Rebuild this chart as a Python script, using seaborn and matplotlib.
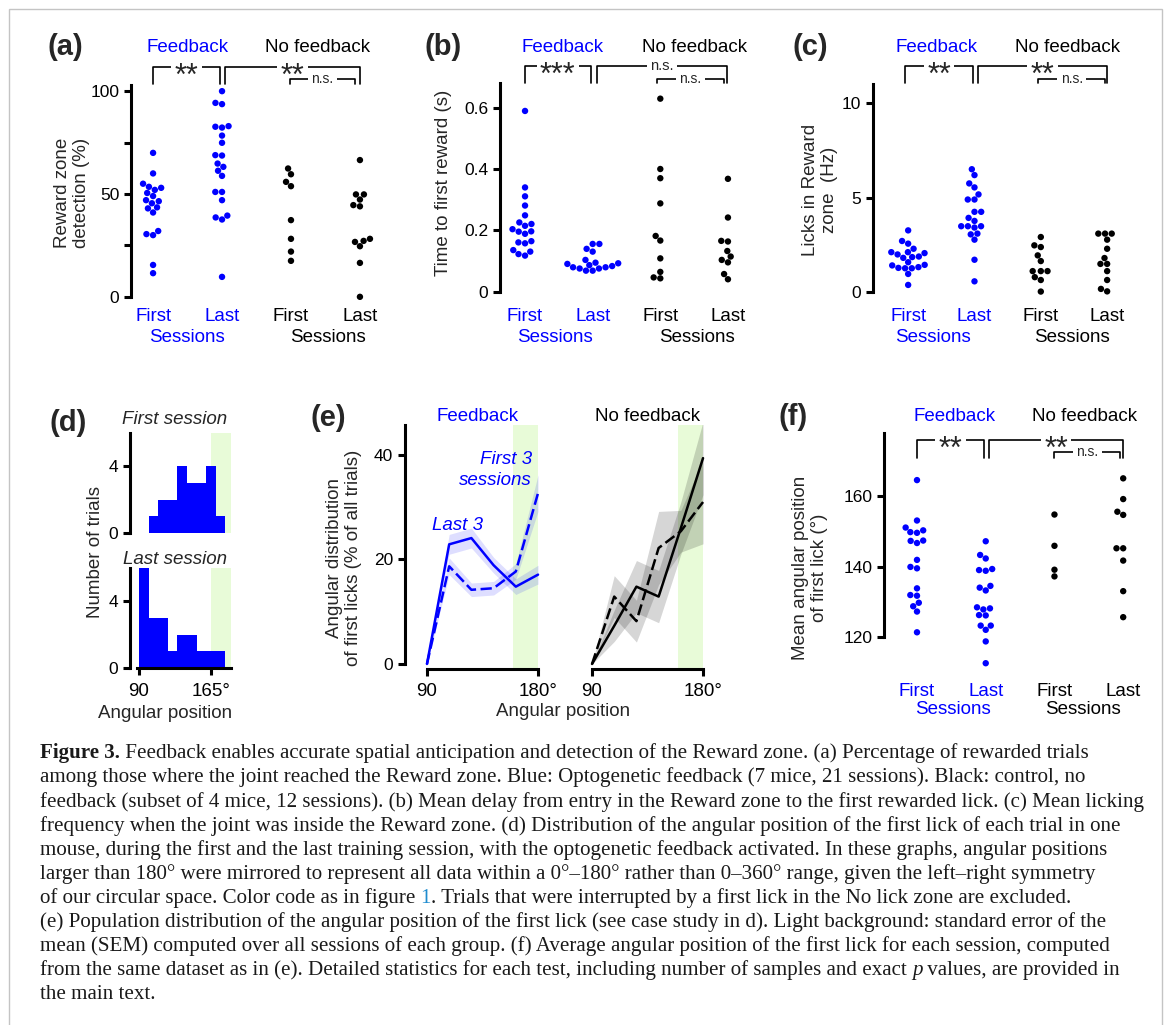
import numpy as np
import pandas as pd
import matplotlib.pyplot as plt
import seaborn as sns
from matplotlib.patches import Rectangle

# ----------------------------------------------------------------
# Values
# ----------------------------------------------------------------
groups = ["fb_first", "fb_last", "nf_first", "nf_last"]
cat_labels = ["First", "Last", "First", "Last"]

# (a) reward zone detection (%)
a_fb_first = [70, 60, 55, 53.5, 53, 52, 50.5, 49, 47, 46.5, 45.5, 43.5, 43, 41, 32, 30.5, 30, 15.5, 11.5]
a_fb_last = [100, 94.3, 93.7, 83, 82.7, 82.3, 78.4, 74.9, 68.9, 68.7, 64.8, 63.2, 61.3, 58.8,
             51, 51, 47, 39.5, 38.6, 37.6, 9.7]
a_nf_first = [62.4, 59.6, 55.9, 53.8, 37.3, 28.2, 22, 17.5]
a_nf_last = [66.5, 49.8, 49.8, 47.3, 44.6, 44, 28.2, 27.2, 26.7, 24.6, 16.5, 0]

# (b) time to first reward (s)
b_fb_first = [0.589, 0.340, 0.311, 0.281, 0.249, 0.226, 0.221, 0.215, 0.204, 0.197, 0.196, 0.189,
              0.165, 0.161, 0.158, 0.136, 0.131, 0.123, 0.118]
b_fb_last = [0.156, 0.156, 0.140, 0.131, 0.104, 0.095, 0.093, 0.091, 0.087, 0.084, 0.080, 0.080,
             0.076, 0.076, 0.069, 0.069]
b_nf_first = [0.629, 0.400, 0.370, 0.288, 0.182, 0.167, 0.109, 0.065, 0.047, 0.044]
b_nf_last = [0.368, 0.242, 0.166, 0.164, 0.133, 0.115, 0.104, 0.096, 0.058, 0.041]

# (c) licks in reward zone (Hz)
c_fb_first = [3.27, 2.71, 2.57, 2.30, 2.12, 2.12, 2.07, 2.0, 1.89, 1.86, 1.82, 1.59, 1.45, 1.42,
              1.33, 1.29, 1.27, 1.27, 0.97, 0.39]
c_fb_last = [6.5, 6.19, 5.75, 5.54, 5.17, 4.90, 4.90, 4.25, 4.25, 3.93, 3.77, 3.49, 3.49, 3.49,
             3.42, 3.10, 3.06, 2.78, 1.72, 0.58]
c_nf_first = [2.92, 2.48, 2.39, 1.95, 1.65, 1.12, 1.12, 1.12, 0.80, 0.65, 0.04]
c_nf_last = [3.10, 3.10, 3.10, 2.78, 2.30, 1.81, 1.50, 1.50, 1.12, 0.65, 0.18, 0.05]

# (f) mean angular position of first lick (deg)
f_fb_first = [164.6, 153.1, 151.1, 150.3, 149.8, 149.6, 147.4, 147.3, 146.7, 141.9, 139.9, 139.5,
              133.8, 131.9, 131.7, 129.7, 128.7, 127.2, 121.3]
f_fb_last = [147.2, 143.3, 142.3, 139.3, 139.0, 138.8, 134.5, 134.0, 133.2, 128.4, 128.1, 127.8,
             126.2, 126.1, 123.2, 123.2, 122.0, 118.7, 112.5]
f_nf_first = [154.8, 145.9, 139.1, 137.2]
f_nf_last = [165.1, 159.2, 155.6, 154.7, 145.2, 145.2, 141.7, 133.0, 125.6]

# (d) first-lick angle histograms, one mouse
hist_edges = [90, 100, 110, 120, 130, 140, 150, 160, 170, 180]
hist_centers = [95, 105, 115, 125, 135, 145, 155, 165, 175]
first_session_counts = [0, 1, 2, 2, 4, 3, 3, 4, 1]
last_session_counts = [6, 3, 3, 1, 2, 2, 1, 1, 1]

# (e) angular distribution of first licks (% of all trials) +/- SEM
angle_bins = [90, 108, 126, 144, 162, 180]
fb_last3 = [0, 22.9, 24.1, 18.9, 14.8, 17.1]
fb_last3_sem = [0, 1.9, 1.9, 1.5, 1.5, 1.8]
fb_first3 = [0, 18.7, 14.2, 14.5, 17.7, 32.7]
fb_first3_sem = [0, 1.6, 1.3, 1.3, 1.5, 3.5]
nf_last3 = [0, 7.3, 14.8, 12.9, 26.0, 39.4]
nf_last3_sem = [0, 3.0, 5.0, 5.0, 5.0, 7.0]
nf_first3 = [0, 12.9, 8.2, 22.2, 25.4, 31.0]
nf_first3_sem = [0, 4.0, 4.0, 7.0, 4.0, 8.0]

caption_lines = [
    " Feedback enables accurate spatial anticipation and detection of the Reward zone. (a) Percentage of rewarded trials",
    "among those where the joint reached the Reward zone. Blue: Optogenetic feedback (7 mice, 21 sessions). Black: control, no",
    "feedback (subset of 4 mice, 12 sessions). (b) Mean delay from entry in the Reward zone to the first rewarded lick. (c) Mean licking",
    "frequency when the joint was inside the Reward zone. (d) Distribution of the angular position of the first lick of each trial in one",
    "mouse, during the first and the last training session, with the optogenetic feedback activated. In these graphs, angular positions",
    "larger than 180\u00b0 were mirrored to represent all data within a 0\u00b0\u2013180\u00b0 rather than 0\u2013360\u00b0 range, given the left\u2013right symmetry",
    "of our circular space. Color code as in figure ",
    "(e) Population distribution of the angular position of the first lick (see case study in d). Light background: standard error of the",
    "mean (SEM) computed over all sessions of each group. (f) Average angular position of the first lick for each session, computed",
    "from the same dataset as in (e). Detailed statistics for each test, including number of samples and exact ",
    "the main text.",
]

# ----------------------------------------------------------------
# Style / layout helpers (everything placed in pixel coordinates)
# ----------------------------------------------------------------
sns.set_theme(style="ticks")
plt.rcParams["font.family"] = ["Liberation Sans", "DejaVu Sans"]
plt.rcParams.update({
    "axes.linewidth": 2.2,
    "xtick.major.width": 2.2, "ytick.major.width": 2.2,
    "xtick.major.size": 5, "ytick.major.size": 5,
    "xtick.color": "black", "ytick.color": "black",
    "axes.edgecolor": "black",
})

W, H = 1171, 1025
BLUE = "#0000ff"
BLACK = "#000000"
GREEN = "#e8fbd8"
FS = 13.5        # most labels
TICK_FS = 12.5

fig = plt.figure(figsize=(W / 100, H / 100), dpi=100)
fig.patches.append(Rectangle((9 / W, -0.02), (1162 - 9) / W, 1.02 - 9 / H,
                             transform=fig.transFigure, fill=False, ec="#c4c4c4", lw=1.0))


def add_ax(box):
    left, top, right, bottom = box
    return fig.add_axes([left / W, 1 - bottom / H, (right - left) / W, (bottom - top) / H])


def yfrac(box, y_px):
    return (box[3] - y_px) / (box[3] - box[1])


def ftext(x_px, y_px, s, **kw):
    kw.setdefault("ha", "center")
    kw.setdefault("va", "center")
    return fig.text(x_px / W, 1 - y_px / H, s, **kw)


def bracket(ax, box, x1, x2, y_line, y_tip, text, size, z=5):
    tr = ax.get_xaxis_transform()
    yl, yt = yfrac(box, y_line), yfrac(box, y_tip)
    ax.plot([x1, x1, x2, x2], [yt, yl, yl, yt], transform=tr, color="black", lw=1.2,
            clip_on=False, zorder=z)
    shift = -0.58 * size if "*" in text else -0.27 * size
    ax.annotate(text, xy=((x1 + x2) / 2, yl), xycoords=tr, xytext=(0, shift),
                textcoords="offset points", ha="center", va="baseline", fontsize=size,
                annotation_clip=False, zorder=z + 1,
                bbox=dict(fc="white", ec="none", pad=2.5))


def strip_panel(box, xlim, ylim, values, yticks, yticklabels, ylabel, ylabel_xy,
                letter, letter_xy, fb_x, nf_x, head_y, label_y, sess_y, sess_x, brackets):
    ax = add_ax(box)
    df = pd.DataFrame({"group": np.repeat(groups, [len(v) for v in values]),
                       "value": np.concatenate(values)})
    sns.swarmplot(data=df, x="group", y="value", order=groups, hue="group", hue_order=groups,
                  palette=[BLUE, BLUE, BLACK, BLACK], size=4.6, linewidth=0, legend=False,
                  ax=ax, clip_on=False)
    ax.set_xlim(*xlim)
    ax.set_ylim(*ylim)
    sns.despine(ax=ax, bottom=True)
    ax.spines["left"].set_bounds(yticks[0], ylim[1])
    ax.set_yticks(yticks, yticklabels, fontsize=TICK_FS)
    pad_pt = (label_y - 10.3 - box[3]) / 1.389
    ax.set_xticks(range(4), cat_labels, fontsize=FS)
    ax.tick_params(axis="x", length=0, pad=pad_pt)
    for t, c in zip(ax.get_xticklabels(), [BLUE, BLUE, BLACK, BLACK]):
        t.set_color(c)
    ax.set_xlabel("")
    ax.set_ylabel("")
    tr = ax.get_xaxis_transform()
    ax.text(sess_x[0], yfrac(box, sess_y), "Sessions", transform=tr, color=BLUE,
            fontsize=FS, ha="center", va="center")
    ax.text(sess_x[1], yfrac(box, sess_y), "Sessions", transform=tr, color=BLACK,
            fontsize=FS, ha="center", va="center")
    ftext(*ylabel_xy, ylabel, rotation=90, fontsize=FS, multialignment="center")
    ftext(*letter_xy, letter, fontsize=21, fontweight="bold")
    ftext(fb_x, head_y, "Feedback", color=BLUE, fontsize=FS)
    ftext(nf_x, head_y, "No feedback", color=BLACK, fontsize=FS)
    for i, (x1, x2, yl, yt, txt, sz) in enumerate(brackets):
        bracket(ax, box, x1, x2, yl, yt, txt, sz, z=5 + 3 * i)
    return ax


# ----------------------------------------------------------------
# (a) (b) (c): strip plots, top row
# ----------------------------------------------------------------
strip_panel((131, 85, 382, 303), (-0.32, 3.32), (-3, 103),
            [a_fb_first, a_fb_last, a_nf_first, a_nf_last],
            [0, 25, 50, 75, 100], ["0", "", "50", "", "100"],
            "Reward zone\ndetection (%)", (72, 193), "(a)", (65, 47), 188, 318, 47, 318, 338,
            (0.49, 2.54),
            [(0, 0.97, 67, 84, "**", 22), (1.05, 3.0, 67, 84, "**", 22),
             (1.98, 2.93, 79, 84, "n.s.", 10)])

strip_panel((500, 83, 755, 298), (-0.37, 3.4), (-0.02, 0.68),
            [b_fb_first, b_fb_last, b_nf_first, b_nf_last],
            [0, 0.2, 0.4, 0.6], ["0", "0.2", "0.4", "0.6"],
            "Time to first reward (s)", (443, 183), "(b)", (443, 47), 563, 695, 47, 318, 338,
            (0.44, 2.54),
            [(0, 0.97, 66, 83, "***", 22), (1.06, 2.99, 66, 83, "n.s.", 10.5),
             (1.95, 2.94, 79, 83, "n.s.", 10)])

strip_panel((873, 84, 1135, 298), (-0.53, 3.42), (-0.3, 11),
            [c_fb_first, c_fb_last, c_nf_first, c_nf_last],
            [0, 5, 10], ["0", "5", "10"],
            "Licks in Reward\nzone  (Hz)", (820, 190), "(c)", (810, 47), 937, 1068, 47, 318, 338,
            (0.38, 2.47),
            [(-0.05, 0.98, 66, 83, "**", 22), (1.05, 3.0, 66, 83, "**", 22),
             (1.96, 2.97, 79, 83, "n.s.", 10)])

# ----------------------------------------------------------------
# (f): strip plot, bottom right
# ----------------------------------------------------------------
strip_panel((884, 433, 1150, 672), (-0.48, 3.39), (110, 178),
            [f_fb_first, f_fb_last, f_nf_first, f_nf_last],
            [120, 140, 160], ["120", "140", "160"],
            "Mean angular position\nof first lick (\u00b0)", (810, 568), "(f)", (793, 417),
            955, 1085, 417, 693, 710, (0.52, 2.42),
            [(0, 0.98, 440, 458, "**", 22), (1.05, 3.0, 440, 458, "**", 22),
             (2.0, 2.95, 452, 458, "n.s.", 10)])

# ----------------------------------------------------------------
# (d): histograms for one mouse
# ----------------------------------------------------------------
for box, counts, title, ty in [((130, 433, 231, 533), first_session_counts, "First session", 420),
                               ((130, 568, 231, 668), last_session_counts, "Last session", 559)]:
    ax = add_ax(box)
    ax.axvspan(165, 186, color=GREEN, lw=0, zorder=0)
    sns.histplot(x=hist_centers, weights=counts, bins=hist_edges, color=BLUE, alpha=1,
                 linewidth=0, ax=ax, zorder=2)
    ax.set_xlim(80.6, 186)
    ax.set_ylim(0, 6)
    ax.set_yticks([0, 4], ["0", "4"], fontsize=TICK_FS)
    ax.set_ylabel("")
    ax.set_xlabel("")
    sns.despine(ax=ax)
    ftext(175, ty, title, fontsize=FS, style="italic")
    if counts is first_session_counts:
        ax.spines["bottom"].set_visible(False)
        ax.set_xticks([])
    else:
        ax.spines["bottom"].set_bounds(87.5, 186)
        ax.set_xticks([90, 165], ["90", "165\u00b0"], fontsize=FS)
        ax.tick_params(axis="x", pad=6)
ftext(95, 552, "Number of trials", rotation=90, fontsize=FS)
ftext(165, 713, "Angular position", fontsize=FS)
ftext(68, 423, "(d)", fontsize=21, fontweight="bold")

# ----------------------------------------------------------------
# (e): population angular distributions
# ----------------------------------------------------------------
e_ylim = (-0.96, 45.74)
ax_l = add_ax((405, 425, 540, 669))
ax_r = add_ax((585, 425, 705, 669))
for ax, xlim in [(ax_l, (72.2, 181.6)), (ax_r, (84.3, 181.6))]:
    ax.axvspan(160, 180, color=GREEN, lw=0, zorder=0)
    ax.set_xlim(*xlim)
    ax.set_ylim(*e_ylim)
    sns.despine(ax=ax)
    ax.spines["bottom"].set_bounds(90, 180)
    ax.set_xticks([90, 180], ["90", "180\u00b0"], fontsize=FS)
    ax.tick_params(axis="x", pad=5)

dash = (0, (4.5, 1.8))
for ax, col, alpha, series in [
        (ax_l, BLUE, 0.13, [(fb_last3, fb_last3_sem, "-"), (fb_first3, fb_first3_sem, dash)]),
        (ax_r, BLACK, 0.16, [(nf_last3, nf_last3_sem, "-"), (nf_first3, nf_first3_sem, dash)])]:
    for mean, sem, ls in series:
        lo = [m - s for m, s in zip(mean, sem)]
        hi = [m + s for m, s in zip(mean, sem)]
        ax.fill_between(angle_bins, lo, hi, color=col, alpha=alpha, lw=0, zorder=1)
        sns.lineplot(x=angle_bins, y=mean, color=col, lw=1.8, ls=ls, ax=ax, zorder=3)

ax_l.spines["left"].set_bounds(0, e_ylim[1])
ax_l.set_yticks([0, 20, 40], ["0", "20", "40"], fontsize=TICK_FS)
ax_r.spines["left"].set_visible(False)
ax_r.set_yticks([])
ftext(344, 558, "Angular distribution\nof first licks (% of all trials)", rotation=90,
      fontsize=FS, multialignment="center")
ftext(563, 712, "Angular position", fontsize=FS)
ftext(328, 418, "(e)", fontsize=21, fontweight="bold")
ftext(478, 417, "Feedback", color=BLUE, fontsize=FS)
ftext(648, 417, "No feedback", color=BLACK, fontsize=FS)
ftext(532, 470, "First 3\nsessions", color=BLUE, fontsize=FS, style="italic", ha="right",
      multialignment="right", linespacing=1.35)
ftext(458, 525, "Last 3", color=BLUE, fontsize=FS, style="italic")

# ----------------------------------------------------------------
# Caption
# ----------------------------------------------------------------
cap = dict(fontsize=15.15, family="Liberation Serif", va="bottom", color="#1a1a1a")
line_y = [753, 777, 802, 826, 850, 874, 898, 922, 946, 970, 994]
for i, (txt, y) in enumerate(zip(caption_lines, line_y)):
    yb = 1 - (y + 10) / H
    if i == 0:
        t0 = fig.text(40 / W, yb, "Figure 3.", fontweight="bold", **cap)
        plt.annotate(txt, xy=(1, 0), xycoords=t0, **cap)
    elif i == 6:
        t0 = fig.text(40 / W, yb, txt, **cap)
        t1 = plt.annotate("1", xy=(1, 0), xycoords=t0, **{**cap, "color": "#1f8ccf"})
        plt.annotate(". Trials that were interrupted by a first lick in the No lick zone are excluded.",
                     xy=(1, 0), xycoords=t1, **cap)
    elif i == 9:
        t0 = fig.text(40 / W, yb, txt, **cap)
        t1 = plt.annotate("p", xy=(1, 0), xycoords=t0, style="italic", **cap)
        plt.annotate(" values, are provided in", xy=(1, 0), xycoords=t1, **cap)
    else:
        fig.text(40 / W, yb, txt, **cap)

fig.savefig("out.png", dpi=100)
